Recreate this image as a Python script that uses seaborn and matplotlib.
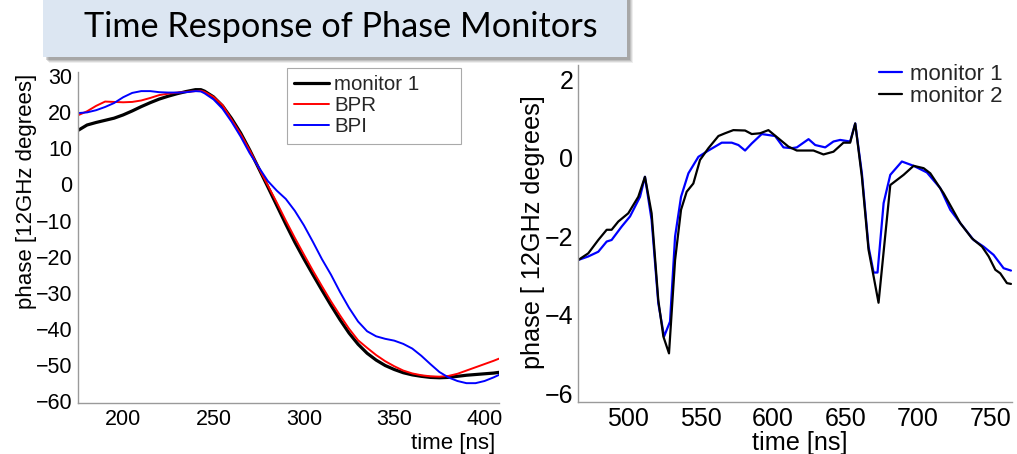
import numpy as np
import pandas as pd
import matplotlib
matplotlib.use("Agg")
import matplotlib.pyplot as plt
from matplotlib.patches import Rectangle
import seaborn as sns

# ---------------- data ----------------
title_text = "Time Response of Phase Monitors"

# left panel
left_time = [175, 180, 185, 190, 195, 200, 205, 210, 215, 220, 225, 230, 235, 240, 243,
             245, 250, 255, 260, 265, 270, 275, 280, 285, 290, 295, 300, 305, 310, 315,
             320, 325, 330, 335, 340, 345, 350, 355, 360, 365, 370, 375, 380, 385, 390,
             395, 400, 405, 408]
left_monitor1 = [15.0, 16.5, 17.2, 17.8, 18.4, 19.3, 20.4, 21.6, 22.7, 23.7, 24.5, 25.2, 25.8, 26.3, 26.3,
                 25.9, 24.3, 21.8, 18.3, 14.3, 9.6, 4.5, -0.6, -5.8, -11.0, -16.0, -20.6, -25.0, -29.3, -33.5,
                 -37.5, -41.2, -44.3, -46.8, -48.7, -50.2, -51.3, -52.2, -52.8, -53.2, -53.5, -53.6, -53.5, -53.2, -52.9,
                 -52.7, -52.5, -52.3, -52.1]
left_bpr = [19.2, 20.3, 21.8, 23.0, 22.9, 22.8, 22.9, 23.3, 24.0, 24.8, 25.2, 25.5, 25.7, 25.9, 26.0,
            25.7, 24.3, 22.0, 18.0, 14.0, 9.5, 4.6, -0.2, -5.0, -10.0, -14.8, -19.4, -23.9, -28.2, -32.4,
            -36.3, -40.0, -43.2, -45.3, -47.3, -49.0, -50.4, -51.6, -52.4, -52.9, -53.2, -53.3, -53.1, -52.5, -51.6,
            -50.7, -49.8, -48.9, -48.3]
left_bpi = [19.8, 20.0, 20.6, 21.5, 22.6, 24.2, 25.4, 25.9, 25.9, 25.6, 25.5, 25.5, 25.6, 25.9, 25.8,
            25.3, 23.6, 21.0, 17.4, 13.3, 8.7, 4.8, 1.0, -1.7, -4.0, -7.3, -11.3, -15.9, -20.7, -25.0,
            -29.8, -34.2, -38.0, -40.7, -42.1, -42.8, -43.3, -44.2, -45.5, -47.5, -49.8, -52.0, -53.5, -54.5, -55.1,
            -55.1, -54.5, -53.5, -52.8]
left_labels = ["monitor 1", "BPR", "BPI"]
left_xticks = [200, 250, 300, 350, 400]
left_yticks = [30, 20, 10, 0, -10, -20, -30, -40, -50, -60]

# right panel
right_time_m1 = [465.7, 472.6, 479.5, 485.3, 488.7, 495.6, 501.4, 508.3, 511.7, 516.3, 520.9, 524.9, 529.0,
                 532.5, 536.6, 541.7, 548.6, 555.5, 564.7, 571.6, 576.2, 580.8, 585.4, 592.3, 601.5, 607.3,
                 613.0, 616.5, 624.6, 629.2, 636.1, 641.8, 646.4, 653.3, 656.8, 661.4, 666.0, 669.5, 672.2,
                 676.4, 681.0, 689.0, 697.1, 706.3, 715.5, 722.4, 729.3, 738.5, 745.4, 752.3, 759.2, 764.3]
right_monitor1 = [-2.60, -2.51, -2.39, -2.13, -2.09, -1.75, -1.49, -0.99, -0.48, -1.58, -3.70, -4.55, -4.17,
                  -2.00, -0.99, -0.39, 0.03, 0.19, 0.39, 0.39, 0.33, 0.19, 0.37, 0.61, 0.56, 0.27,
                  0.25, 0.27, 0.48, 0.33, 0.27, 0.42, 0.46, 0.42, 0.88, -0.39, -2.26, -2.92, -2.92,
                  -1.15, -0.43, -0.09, -0.20, -0.37, -0.77, -1.32, -1.66, -2.09, -2.26, -2.47, -2.81, -2.87]
right_time_m2 = [465.7, 472.6, 479.5, 485.3, 488.7, 493.3, 500.2, 507.1, 511.7, 516.3, 520.9, 524.4, 528.3,
                 532.5, 536.6, 540.5, 545.1, 549.7, 555.5, 562.4, 567.0, 572.7, 580.8, 585.4, 591.2, 596.9,
                 603.8, 610.7, 616.5, 628.0, 634.9, 641.8, 648.7, 653.3, 656.8, 661.4, 666.0, 669.5, 672.9,
                 681.0, 690.2, 697.1, 704.0, 708.6, 717.8, 729.3, 737.4, 744.3, 748.9, 753.5, 756.9, 761.5, 764.3]
right_monitor2 = [-2.60, -2.43, -2.09, -1.83, -1.83, -1.62, -1.41, -0.99, -0.48, -1.41, -3.62, -4.55, -4.98,
                  -2.60, -1.32, -0.86, -0.65, -0.05, 0.25, 0.56, 0.63, 0.71, 0.70, 0.61, 0.63, 0.71,
                  0.50, 0.29, 0.19, 0.19, 0.09, 0.16, 0.39, 0.39, 0.88, -0.48, -2.34, -3.02, -3.69,
                  -0.69, -0.43, -0.20, -0.26, -0.39, -0.90, -1.66, -2.05, -2.26, -2.51, -2.85, -2.94, -3.19, -3.21]
right_labels = ["monitor 1", "monitor 2"]
right_xticks = [500, 550, 600, 650, 700, 750]
right_yticks = [2, 0, -2, -4, -6]

# ---------------- style ----------------
sns.set_theme(style="white")
plt.rcParams["font.family"] = ["Liberation Sans", "DejaVu Sans"]

W, H = 1017, 454
fig = plt.figure(figsize=(W / 100, H / 100), dpi=100)

def fx(px):
    return px / W

def fy(py):
    return 1 - py / H

axL = fig.add_axes([fx(78), fy(403), fx(499) - fx(78), fy(72) - fy(403)])
axR = fig.add_axes([fx(578), fy(402), fx(1012) - fx(578), fy(65) - fy(402)])

# ---------------- left panel ----------------
dfL = pd.DataFrame({"time": left_time, "monitor 1": left_monitor1,
                    "BPR": left_bpr, "BPI": left_bpi})
sns.lineplot(data=dfL, x="time", y="monitor 1", ax=axL, color="black", linewidth=2.3,
             label=left_labels[0], sort=False, estimator=None)
sns.lineplot(data=dfL, x="time", y="BPR", ax=axL, color="#ff0000", linewidth=1.4,
             label=left_labels[1], sort=False, estimator=None)
sns.lineplot(data=dfL, x="time", y="BPI", ax=axL, color="#0000ff", linewidth=1.4,
             label=left_labels[2], sort=False, estimator=None)
axL.set_xlim(175, 408)
axL.set_ylim(-60.6, 31.2)
axL.set_xticks(left_xticks)
axL.set_yticks(left_yticks)
axL.set_yticklabels([str(v).replace("-", "\u2212") for v in left_yticks])
axL.tick_params(direction="in", length=4, width=0.8, color="#9a9a9a", labelsize=15.5,
                pad=4, labelcolor="black")
axL.set_xlabel("time [ns]", fontsize=16, color="black")
axL.xaxis.set_label_coords((495 - 78) / 421, (403 - 433) / 331)
axL.xaxis.label.set_ha("right")
axL.set_ylabel("phase [12GHz degrees]", fontsize=16, color="black")
axL.yaxis.set_label_coords((27 - 78) / 421, (403 - 191) / 331)
axL.yaxis.label.set_va("center")
legL = axL.legend(loc="upper left", bbox_to_anchor=(0.496, 0.5, 0.414, 0.512), mode="expand",
                  fontsize=14.8, frameon=True, fancybox=False, framealpha=1, edgecolor="#aaaaaa",
                  handlelength=1.7, handletextpad=0.25, labelspacing=0.1, borderpad=0.35,
                  borderaxespad=0)
legL.get_frame().set_linewidth(0.8)

# ---------------- right panel ----------------
dfR1 = pd.DataFrame({"time": right_time_m1, "phase": right_monitor1})
dfR2 = pd.DataFrame({"time": right_time_m2, "phase": right_monitor2})
sns.lineplot(data=dfR1, x="time", y="phase", ax=axR, color="#0000ff", linewidth=1.6,
             label=right_labels[0], sort=False, estimator=None)
sns.lineplot(data=dfR2, x="time", y="phase", ax=axR, color="black", linewidth=1.6,
             label=right_labels[1], sort=False, estimator=None)
axR.set_xlim(465.5, 765)
axR.set_ylim(-6.22, 2.37)
axR.set_xticks(right_xticks)
axR.set_yticks(right_yticks)
axR.set_yticklabels([str(v).replace("-", "\u2212") for v in right_yticks])
axR.tick_params(direction="in", length=4, width=0.8, color="#9a9a9a", labelsize=18,
                pad=3.5, labelcolor="black")
axR.set_xlabel("time [ns]", fontsize=18.2, color="black")
axR.xaxis.set_label_coords((800 - 578) / 434, (402 - 431) / 337)
axR.set_ylabel("phase [ 12GHz degrees]", fontsize=18.2, color="black")
axR.yaxis.set_label_coords((533 - 578) / 434, (402 - 232) / 337)
axR.yaxis.label.set_va("center")
axR.legend(loc="upper right", bbox_to_anchor=(1.0, 1.03), frameon=False, fontsize=16,
           handlelength=1.0, handletextpad=0.4, labelspacing=0.05, borderpad=0.4,
           borderaxespad=0)

for ax in (axL, axR):
    for side in ("top", "right"):
        ax.spines[side].set_visible(False)
    for side in ("left", "bottom"):
        ax.spines[side].set_color("#9a9a9a")
        ax.spines[side].set_linewidth(1.0)
    ax.set_facecolor("white")

# ---------------- title box ----------------
bx0, bx1, by1 = 43, 627, 57
for off, a in [(6, 0.10), (5, 0.15), (4, 0.2), (3, 0.25)]:
    fig.patches.append(Rectangle((fx(bx0 + off), fy(by1 + off)), fx(bx1 - bx0), fy(-10) - fy(by1),
                                 transform=fig.transFigure, facecolor="#606060", alpha=a,
                                 edgecolor="none", zorder=0))
fig.patches.append(Rectangle((fx(bx0), fy(by1)), fx(bx1 - bx0), fy(-10) - fy(by1),
                             transform=fig.transFigure, facecolor="#dce6f2",
                             edgecolor="none", zorder=1))
fig.text(fx(341), fy(27), title_text, ha="center", va="center", fontsize=24.7,
         family=["Lato", "DejaVu Sans"], color="black", zorder=2)

fig.savefig("out.png", dpi=100, facecolor="white")
